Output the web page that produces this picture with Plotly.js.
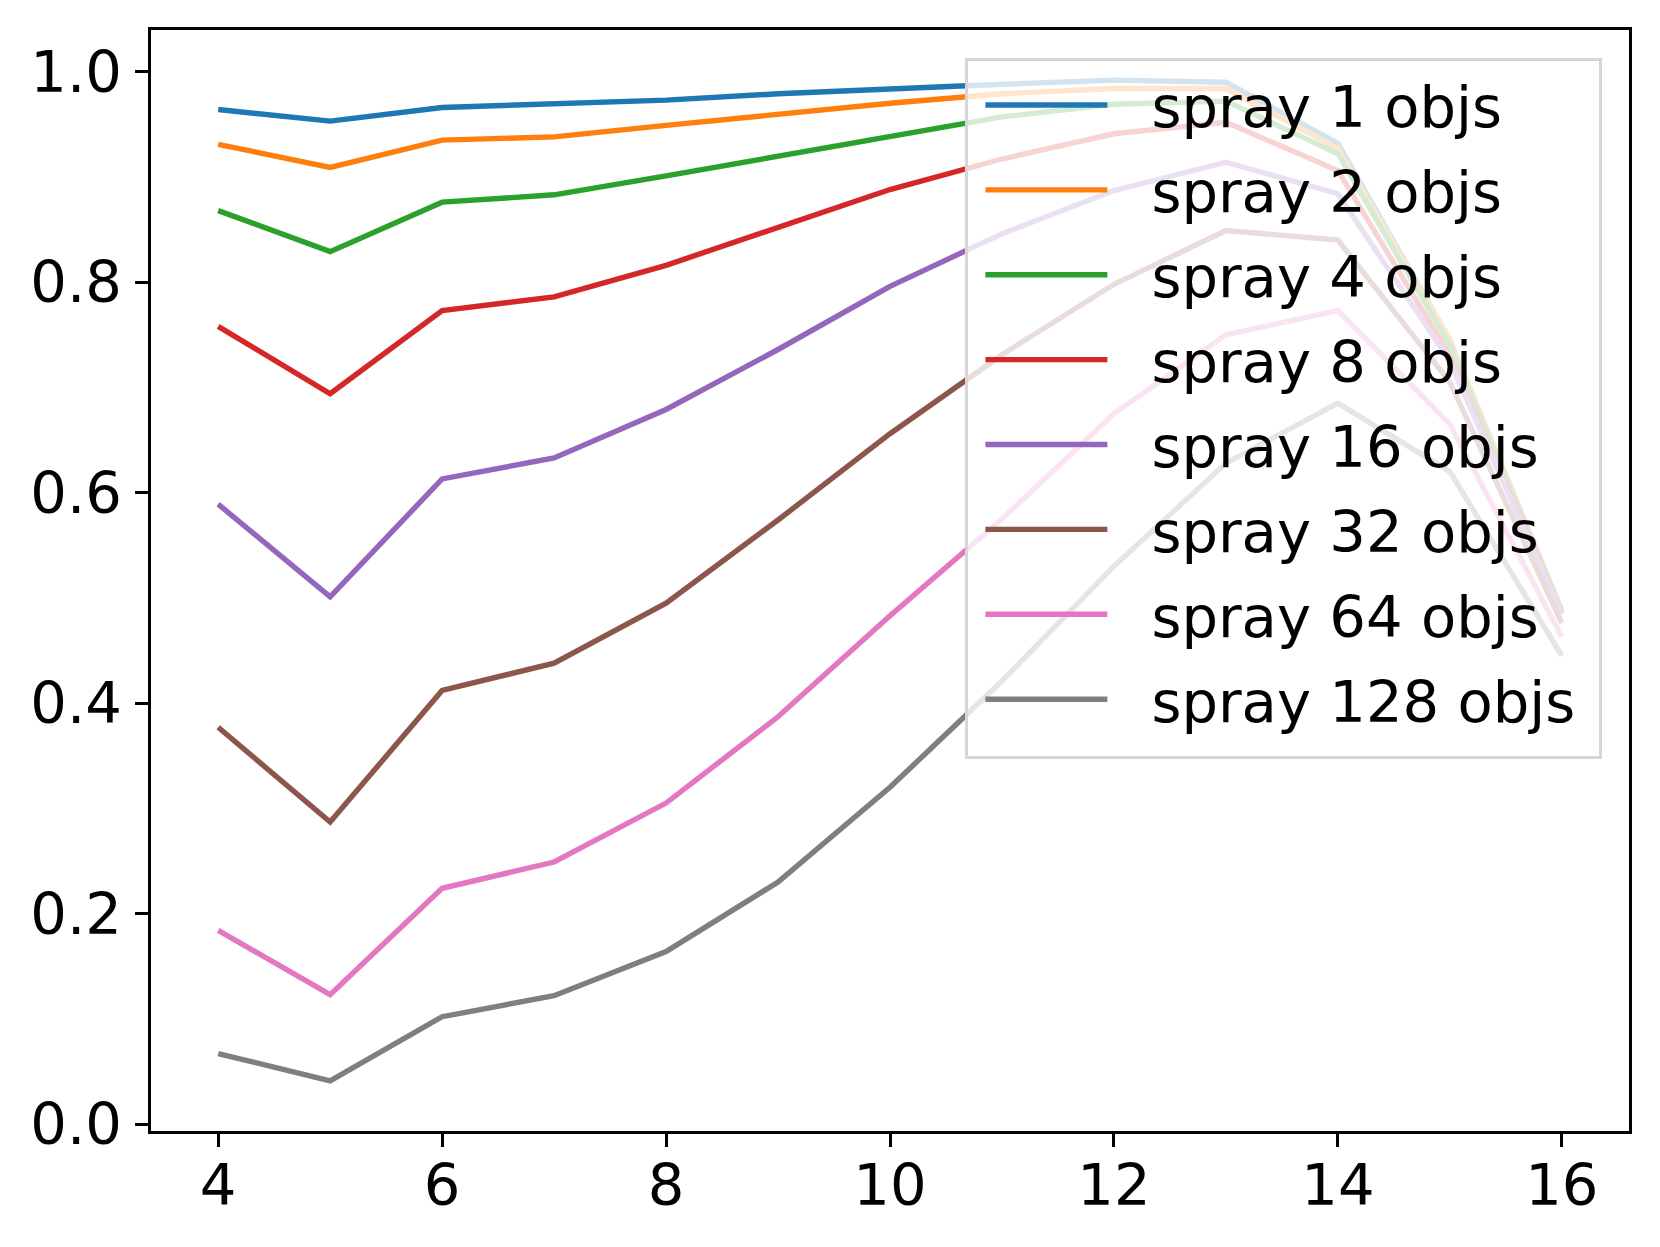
<!DOCTYPE html>
<html>
<head>
<meta charset="utf-8">
<script src="https://cdn.plot.ly/plotly-3.0.1.min.js"></script>
<style>
  html, body { margin: 0; padding: 0; background: #ffffff; }
  #chart { width: 1660px; height: 1247px; }
</style>
</head>
<body>
<div id="chart"></div>
<script>
// ---- data ----
const xValues = [4, 5, 6, 7, 8, 9, 10, 11, 12, 13, 14, 15, 16];

const spray1   = [0.964, 0.953, 0.966, 0.969, 0.973, 0.979, 0.984, 0.988, 0.992, 0.990, 0.932, 0.745, 0.488];
const spray2   = [0.931, 0.909, 0.935, 0.938, 0.949, 0.960, 0.970, 0.979, 0.984, 0.984, 0.927, 0.745, 0.488];
const spray4   = [0.868, 0.829, 0.876, 0.883, 0.901, 0.920, 0.939, 0.957, 0.969, 0.972, 0.922, 0.740, 0.487];
const spray8   = [0.758, 0.694, 0.773, 0.786, 0.816, 0.852, 0.888, 0.917, 0.941, 0.952, 0.906, 0.730, 0.486];
const spray16  = [0.589, 0.501, 0.613, 0.633, 0.679, 0.736, 0.796, 0.846, 0.887, 0.914, 0.884, 0.725, 0.484];
const spray32  = [0.377, 0.287, 0.412, 0.438, 0.495, 0.574, 0.656, 0.731, 0.798, 0.849, 0.840, 0.705, 0.476];
const spray64  = [0.184, 0.123, 0.224, 0.249, 0.305, 0.387, 0.483, 0.575, 0.675, 0.750, 0.773, 0.665, 0.463];
const spray128 = [0.067, 0.041, 0.102, 0.122, 0.164, 0.230, 0.320, 0.421, 0.530, 0.628, 0.685, 0.620, 0.445];

const seriesNames = ["spray 1 objs", "spray 2 objs", "spray 4 objs", "spray 8 objs",
                     "spray 16 objs", "spray 32 objs", "spray 64 objs", "spray 128 objs"];
const seriesValues = [spray1, spray2, spray4, spray8, spray16, spray32, spray64, spray128];
const seriesColors = ["#1f77b4", "#ff7f0e", "#2ca02c", "#d62728",
                      "#9467bd", "#8c564b", "#e377c2", "#7f7f7f"];

const xTickVals = [4, 6, 8, 10, 12, 14, 16];
const yTickVals = [0.0, 0.2, 0.4, 0.6, 0.8, 1.0];

// ---- build traces ----
const traces = seriesNames.map((name, i) => ({
  type: "scatter",
  mode: "lines",
  name: name,
  legendgroup: "g" + i,
  x: xValues,
  y: seriesValues[i],
  line: { color: seriesColors[i], width: 5.4 },
  hoverinfo: "x+y+name"
}));

const FONT = "DejaVu Sans, sans-serif";
const LEGEND_LINE_LEN = 122;
const LEGEND_EXTRA_W = 19;
const LEGEND_EXTRA_H = 12;

const layout = {
  width: 1660,
  height: 1247,
  paper_bgcolor: "#ffffff",
  plot_bgcolor: "#ffffff",
  font: { family: FONT, size: 57.6, color: "#000000" },
  margin: { l: 151, r: 31, t: 30, b: 116, pad: 0 },
  showlegend: true,
  legend: {
    x: 0.551,
    y: 0.9745,
    xanchor: "left",
    yanchor: "top",
    bgcolor: "rgba(255,255,255,0.8)",
    bordercolor: "#d6d6d6",
    borderwidth: 3,
    font: { family: FONT, size: 57.6, color: "#000000" },
    indentation: 12,
    itemwidth: 161,
    tracegroupgap: 7,
    traceorder: "grouped"
  },
  xaxis: {
    range: [3.4, 16.6],
    tickmode: "array",
    tickvals: xTickVals,
    ticktext: xTickVals.map(v => String(v)),
    ticks: "outside",
    ticklen: 12.6,
    tickwidth: 2.9,
    tickcolor: "#000000",
    ticklabelstandoff: -11,
    showline: true,
    linecolor: "#000000",
    linewidth: 2.9,
    mirror: true,
    showgrid: false,
    zeroline: false,
    tickfont: { family: FONT, size: 57.6, color: "#000000" }
  },
  yaxis: {
    range: [-0.0066, 1.0396],
    tickmode: "array",
    tickvals: yTickVals,
    ticktext: yTickVals.map(v => v.toFixed(1)),
    ticks: "outside",
    ticklen: 12.6,
    tickwidth: 2.9,
    tickcolor: "#000000",
    ticklabelstandoff: 2,
    showline: true,
    linecolor: "#000000",
    linewidth: 2.9,
    mirror: true,
    showgrid: false,
    zeroline: false,
    tickfont: { family: FONT, size: 57.6, color: "#000000" }
  }
};

// matplotlib-like legend cosmetics: shorter handles, a little more frame padding
function styleLegend(gd) {
  gd.querySelectorAll(".legend .traces path.js-line").forEach(p => {
    const d = p.getAttribute("d") || "";
    const m = d.match(/^M\s*([-\d.]+)[,\s]+([-\d.]+)/);
    if (m) p.setAttribute("d", "M" + m[1] + "," + m[2] + "h" + LEGEND_LINE_LEN);
  });
  const bg = gd.querySelector(".legend rect.bg");
  if (bg) {
    const w = parseFloat(bg.getAttribute("width"));
    const h = parseFloat(bg.getAttribute("height"));
    if (bg.dataset.adjW !== String(w)) {
      const nw = w + LEGEND_EXTRA_W;
      bg.setAttribute("width", nw);
      bg.dataset.adjW = String(nw);
    }
    if (bg.dataset.adjH !== String(h)) {
      const nh = h + LEGEND_EXTRA_H;
      bg.setAttribute("height", nh);
      bg.dataset.adjH = String(nh);
    }
  }
}

Plotly.newPlot("chart", traces, layout, { displayModeBar: false, responsive: false })
  .then(gd => {
    styleLegend(gd);
    gd.on("plotly_afterplot", () => styleLegend(gd));
  });
</script>
</body>
</html>
